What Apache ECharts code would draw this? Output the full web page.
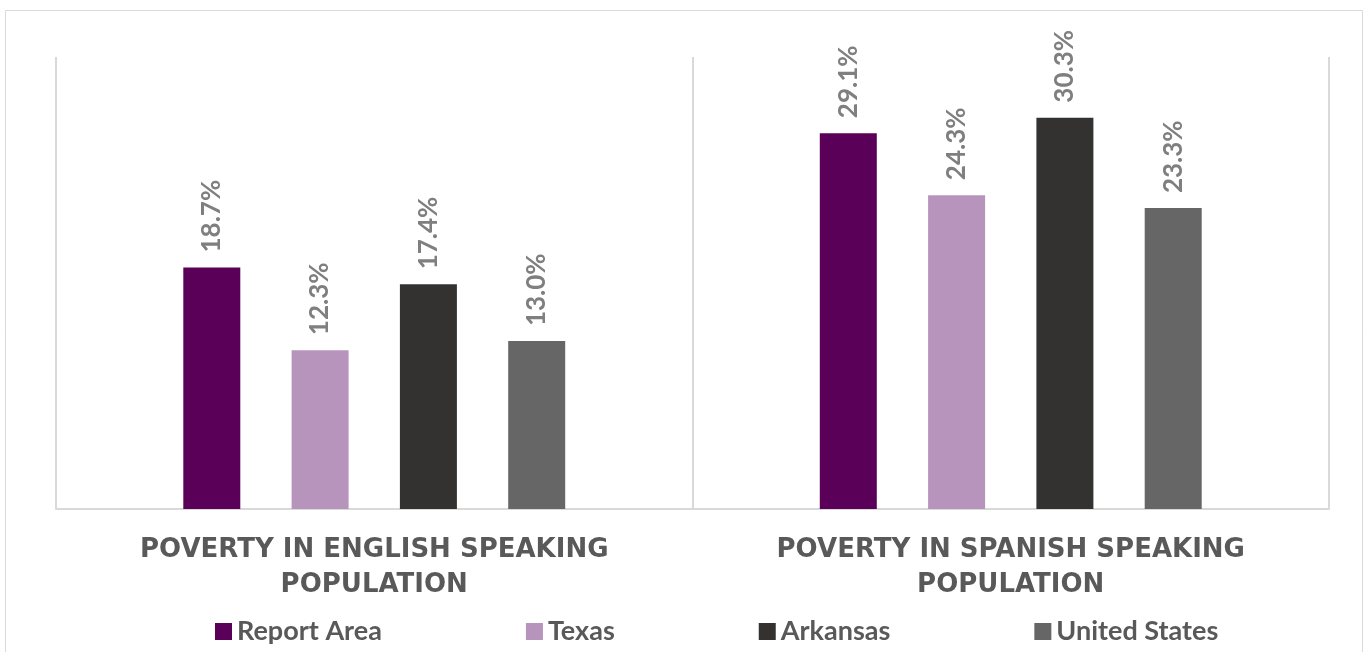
<!DOCTYPE html>
<html>
<head>
<meta charset="utf-8">
<script src="https://cdn.jsdelivr.net/npm/echarts@6/dist/echarts.min.js"></script>
<style>
  html, body { margin: 0; padding: 0; background: #fff; }
  #chart { width: 1369px; height: 652px; }
</style>
</head>
<body>
<div id="chart"></div>
<script>
  // values (percent)
  const categories = ['POVERTY IN ENGLISH SPEAKING\nPOPULATION', 'POVERTY IN SPANISH SPEAKING\nPOPULATION']
  const seriesNames = ['Report Area', 'Texas', 'Arkansas', 'United States']
  const reportArea = [18.7, 29.1]
  const texas = [12.3, 24.3]
  const arkansas = [17.4, 30.3]
  const unitedStates = [13.0, 23.3]
  const colors = ['#5b0058', '#b794bc', '#333231', '#666666']

  const seriesValues = [reportArea, texas, arkansas, unitedStates]
  const font = 'Lato, "Open Sans", sans-serif'

  const chart = echarts.init(document.getElementById('chart'))

  chart.setOption({
    animation: false,
    color: colors,
    graphic: [{
      type: 'rect',
      shape: {x: 5.5, y: 10.5, width: 1357, height: 700},
      style: {fill: 'none', stroke: '#d9d9d9', lineWidth: 1},
      silent: true,
      z: -1
    }],
    grid: {left: 56, right: 40, top: 57, bottom: 143},
    legend: {
      data: seriesNames,
      left: 210,
      top: 613,
      padding: 5,
      icon: 'rect',
      itemWidth: 17,
      itemHeight: 17,
      itemGap: 144,
      textStyle: {fontFamily: font, fontWeight: 'bold', fontSize: 27, color: '#595959'}
    },
    xAxis: {
      type: 'category',
      data: categories,
      axisLine: {lineStyle: {color: '#d9d9d9', width: 2}},
      axisTick: {show: false},
      splitLine: {show: true, lineStyle: {color: '#d9d9d9', width: 2}},
      axisLabel: {
        margin: 24,
        fontFamily: '"DejaVu Sans", sans-serif',
        fontWeight: 'bold',
        fontSize: 26,
        lineHeight: 35,
        color: '#595959',
        align: 'center'
      }
    },
    yAxis: {
      type: 'value',
      min: 0,
      max: 35,
      show: false,
      splitLine: {show: false}
    },
    series: seriesNames.map((name, i) => ({
      name: name,
      type: 'bar',
      data: seriesValues[i],
      barWidth: 57,
      barGap: '90%',
      label: {
        show: true,
        position: 'top',
        rotate: 90,
        align: 'left',
        verticalAlign: 'middle',
        distance: 15,
        fontFamily: font,
        fontWeight: 'bold',
        fontSize: 26,
        color: '#7f7f7f',
        formatter: p => p.value.toFixed(1) + '%'
      }
    }))
  })
</script>
</body>
</html>
